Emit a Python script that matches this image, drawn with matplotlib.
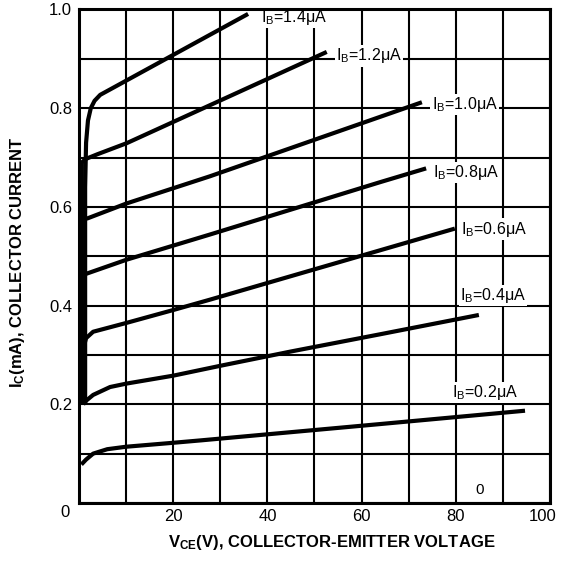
import matplotlib
matplotlib.use('Agg')
import matplotlib.pyplot as plt
import matplotlib.transforms as mtrans
import numpy as np

plt.rcParams['font.family'] = ['Liberation Sans', 'DejaVu Sans']
plt.rcParams['mathtext.fontset'] = 'custom'
plt.rcParams['mathtext.rm'] = 'Liberation Sans'
plt.rcParams['mathtext.bf'] = 'Liberation Sans:bold'
plt.rcParams['mathtext.it'] = 'Liberation Sans:italic'

# # # DADOS # # #
ib_labels = ['0.2', '0.4', '0.6', '0.8', '1.0', '1.2', '1.4']

vce_02 = [0.5, 1.5, 3.0, 6.0, 10.0, 20.0, 26.0, 64.0, 94.7]
ic_02 = [0.078, 0.088, 0.100, 0.109, 0.114, 0.122, 0.127, 0.160, 0.187]

vce_04 = [0.9, 1.6, 3.0, 6.6, 10.1, 20.0, 30.0, 45.0, 64.0, 84.9]
ic_04 = [0.200, 0.208, 0.219, 0.235, 0.242, 0.258, 0.278, 0.307, 0.342, 0.381]

vce_06 = [1.1, 1.5, 3.0, 10.1, 20.0, 27.8, 63.9, 79.8]
ic_06 = [0.320, 0.334, 0.347, 0.365, 0.391, 0.412, 0.512, 0.556]

vce_08 = [1.4, 10.1, 27.8, 63.9, 73.7]
ic_08 = [0.464, 0.493, 0.544, 0.650, 0.678]

vce_10 = [1.6, 10.1, 27.8, 72.8]
ic_10 = [0.576, 0.607, 0.662, 0.812]

vce_12 = [0.6, 0.6, 1.4, 4.0, 10.1, 52.6]
ic_12 = [0.200, 0.690, 0.697, 0.707, 0.729, 0.914]

vce_14 = [1.3, 1.3, 1.5, 1.9, 2.5, 3.3, 4.5, 35.9]
ic_14 = [0.200, 0.640, 0.730, 0.775, 0.800, 0.815, 0.827, 0.991]

curvas = [(vce_02, ic_02), (vce_04, ic_04), (vce_06, ic_06), (vce_08, ic_08),
          (vce_10, ic_10), (vce_12, ic_12), (vce_14, ic_14)]

# posicao dos rotulos (x, linha de base y) em coordenadas de dados
rot_x = [79.1, 80.9, 81.2, 75.2, 74.9, 54.6, 38.6]
rot_y = [0.215, 0.411, 0.546, 0.661, 0.798, 0.897, 0.975]

# # # GRAFICO # # #
fig = plt.figure(figsize=(5.66, 5.61), dpi=100)
ax = fig.add_axes([0.1396, 0.1034, 0.8321, 0.8797])

for vce, ic in curvas:
    ax.plot(vce, ic, color='black', lw=3.0, solid_capstyle='butt', zorder=4)

for lab, x, y in zip(ib_labels, rot_x, rot_y):
    ax.text(x, y, r'I$_{\mathrm{B}}$=' + lab + 'μA', fontsize=11.5, ha='left', va='baseline',
            bbox=dict(boxstyle='square,pad=0.08', fc='white', ec='none'), zorder=5)

ax.text(85.1, 0.026, '0', fontsize=11, ha='center', va='center')

ax.set_xlim(0, 100)
ax.set_ylim(0, 1.0)
ax.set_xticks(np.arange(0, 101, 10))
ax.set_xticklabels(['', '', '20', '', '40', '', '60', '', '80', '', '100'])
ax.set_yticks(np.arange(0, 1.01, 0.1))
ax.set_yticklabels(['0', '', '0.2', '', '0.4', '', '0.6', '', '0.8', '', '1.0'])
ax.tick_params(length=0, labelsize=12, colors='black')
ax.tick_params(axis='x', pad=4)
ax.tick_params(axis='y', pad=5)
ax.grid(True, color='black', lw=1.5)
ax.set_axisbelow(True)
for s in ax.spines.values():
    s.set_linewidth(2.2)
    s.set_zorder(6)

# ajustes finos: "100" um pouco para dentro, "0" um pouco abaixo
lbl100 = ax.xaxis.get_major_ticks()[-1].label1
lbl100.set_transform(lbl100.get_transform() + mtrans.ScaledTranslation(-0.07, 0, fig.dpi_scale_trans))
lbl0 = ax.yaxis.get_major_ticks()[0].label1
lbl0.set_transform(lbl0.get_transform() + mtrans.ScaledTranslation(-0.02, -0.08, fig.dpi_scale_trans))

ax.set_xlabel(r'$\mathbf{V_{CE}}$(V), COLLECTOR-EMITTER VOLTAGE', fontsize=12, fontweight='bold')
ax.xaxis.set_label_coords(0.537, -0.061)
ax.set_ylabel(r'$\mathbf{I_{C}}$(mA), COLLECTOR CURRENT', fontsize=12, fontweight='bold')
ax.yaxis.set_label_coords(-0.1115, 0.488)

plt.savefig('out.png', dpi=100)
